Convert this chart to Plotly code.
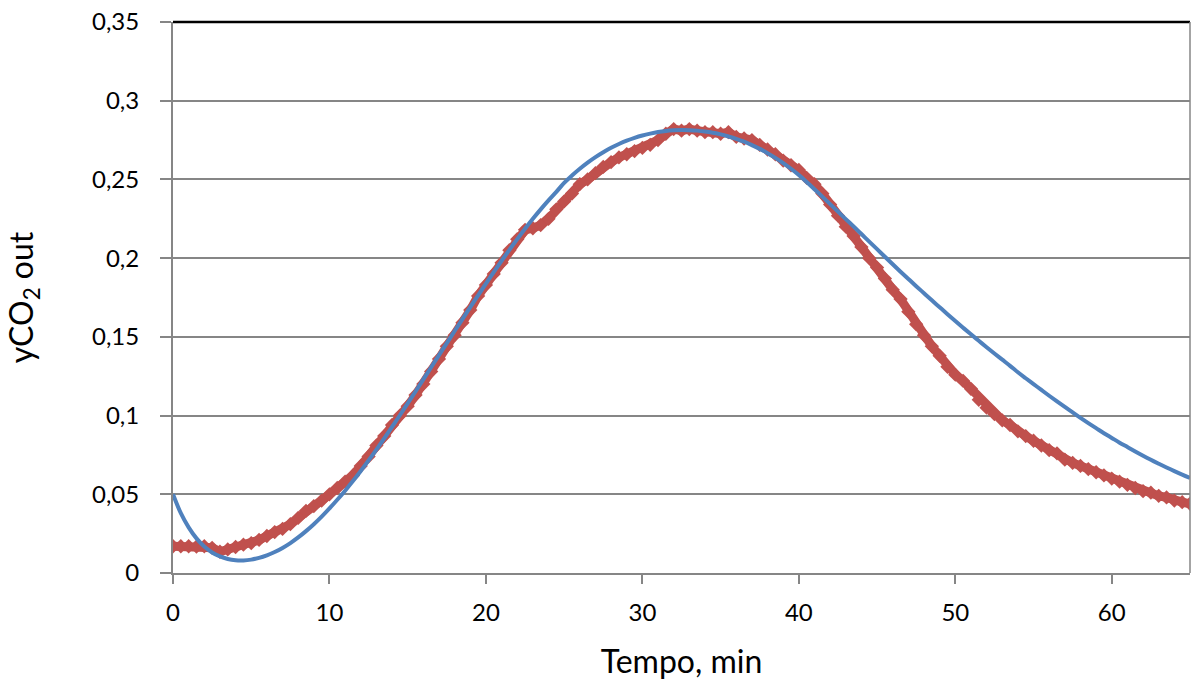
import plotly.graph_objects as go

# Time axis (min), sampled every 0.5 min
t = [i * 0.5 for i in range(131)]

# Experimental yCO2 (red, measured)
y_exp = [
    0.017, 0.017, 0.017, 0.0168, 0.017, 0.016, 0.0135, 0.015, 0.0165, 0.018,
    0.019, 0.021, 0.0235, 0.026, 0.028, 0.031, 0.035, 0.0395, 0.0425, 0.046,
    0.050, 0.054, 0.058, 0.062, 0.068, 0.074, 0.081, 0.087, 0.094, 0.100,
    0.106, 0.113, 0.120, 0.128, 0.136, 0.144, 0.151, 0.159, 0.167, 0.176,
    0.183, 0.190, 0.197, 0.205, 0.212, 0.218, 0.219, 0.221, 0.225, 0.231,
    0.236, 0.241, 0.247, 0.250, 0.254, 0.258, 0.261, 0.264, 0.266, 0.268,
    0.270, 0.272, 0.275, 0.279, 0.282, 0.281, 0.282, 0.281, 0.280, 0.280,
    0.279, 0.280, 0.277, 0.276, 0.275, 0.272, 0.269, 0.266, 0.262, 0.259,
    0.256, 0.251, 0.247, 0.241, 0.234, 0.227, 0.220, 0.214, 0.207, 0.200,
    0.194, 0.187, 0.180, 0.174, 0.166, 0.158, 0.151, 0.144, 0.138, 0.131,
    0.126, 0.122, 0.117, 0.110, 0.105, 0.101, 0.097, 0.094, 0.090, 0.087,
    0.084, 0.081, 0.078, 0.076, 0.072, 0.070, 0.068, 0.066, 0.064, 0.062,
    0.060, 0.058, 0.056, 0.054, 0.052, 0.051, 0.049, 0.048, 0.046, 0.045,
    0.044,
]

# Model yCO2 (blue, smooth)
y_mod = [
    0.0500, 0.0380, 0.0290, 0.0220, 0.0168, 0.0130, 0.0105, 0.0089, 0.0081, 0.0080,
    0.0085, 0.0096, 0.0112, 0.0133, 0.0159, 0.0190, 0.0226, 0.0266, 0.0310, 0.0358,
    0.0410, 0.0465, 0.0523, 0.0584, 0.0648, 0.0715, 0.0784, 0.0855, 0.0928, 0.1002,
    0.1077, 0.1153, 0.1230, 0.1307, 0.1384, 0.1460, 0.1537, 0.1613, 0.1689, 0.1764,
    0.1838, 0.1911, 0.1983, 0.2053, 0.2121, 0.2187, 0.2250, 0.2310, 0.2367, 0.2421,
    0.2478, 0.2525, 0.2568, 0.2607, 0.2642, 0.2673, 0.2701, 0.2725, 0.2746, 0.2764,
    0.2779, 0.2791, 0.2801, 0.2808, 0.2812, 0.2814, 0.2813, 0.2810, 0.2804, 0.2796,
    0.2786, 0.2773, 0.2758, 0.2740, 0.2718, 0.2694, 0.2667, 0.2637, 0.2604, 0.2568,
    0.2528, 0.2484, 0.2438, 0.2391, 0.2343, 0.2296, 0.2248, 0.2201, 0.2153, 0.2105,
    0.2057, 0.2009, 0.1961, 0.1914, 0.1868, 0.1822, 0.1777, 0.1732, 0.1688, 0.1644,
    0.1601, 0.1558, 0.1516, 0.1475, 0.1434, 0.1394, 0.1355, 0.1316, 0.1275, 0.1237,
    0.1200, 0.1163, 0.1126, 0.1090, 0.1055, 0.1020, 0.0985, 0.0952, 0.0920, 0.0888,
    0.0858, 0.0828, 0.0800, 0.0772, 0.0745, 0.0719, 0.0694, 0.0670, 0.0647, 0.0625,
    0.0604,
]

x_ticks = [0, 10, 20, 30, 40, 50, 60]
x_tick_labels = ["0", "10", "20", "30", "40", "50", "60"]
y_ticks = [0, 0.05, 0.1, 0.15, 0.2, 0.25, 0.3, 0.35]
y_tick_labels = ["0", "0,05", "0,1", "0,15", "0,2", "0,25", "0,3", "0,35"]

RED = "#C0504D"
BLUE = "#4F81BD"
AXIS = "#868686"
FONT = "Lato"

fig = go.Figure()
fig.add_trace(go.Scatter(
    x=t, y=y_exp, mode="lines+markers",
    line=dict(color=RED, width=9),
    marker=dict(symbol="diamond", size=11, color=RED),
    showlegend=False, hoverinfo="skip",
))
fig.add_trace(go.Scatter(
    x=t, y=y_mod, mode="lines",
    line=dict(color=BLUE, width=4, shape="spline", smoothing=1.0),
    showlegend=False, hoverinfo="skip",
))

fig.update_layout(
    width=1192, height=686,
    margin=dict(l=173, r=2, t=22, b=113),
    paper_bgcolor="white", plot_bgcolor="white",
    font=dict(family=FONT, size=24, color="black"),
    xaxis=dict(
        range=[0, 65], tickvals=x_ticks, ticktext=x_tick_labels,
        showgrid=False, zeroline=False,
        showline=True, linecolor=AXIS, linewidth=2,
        ticks="outside", ticklen=9, tickwidth=2, tickcolor=AXIS,
        ticklabelstandoff=8,
        tickfont=dict(family=FONT, size=24),
        title=dict(text="Tempo, min", font=dict(family=FONT, size=32), standoff=26),
    ),
    yaxis=dict(
        range=[0, 0.35], tickvals=y_ticks, ticktext=y_tick_labels,
        showgrid=True, gridcolor=AXIS, gridwidth=2, zeroline=False,
        showline=True, linecolor=AXIS, linewidth=2,
        ticks="outside", ticklen=11, tickwidth=2, tickcolor=AXIS,
        ticklabelstandoff=16,
        tickfont=dict(family=FONT, size=24),
        title=dict(text="yCO<sub>2</sub> out", font=dict(family=FONT, size=32), standoff=49),
    ),
    shapes=[
        dict(type="line", xref="paper", yref="paper", x0=0, x1=1, y0=1, y1=1,
             line=dict(color="black", width=2.5)),
        dict(type="line", xref="paper", yref="paper", x0=1, x1=1, y0=0, y1=1,
             line=dict(color=AXIS, width=1.5)),
    ],
)

fig.write_html("out.html")
